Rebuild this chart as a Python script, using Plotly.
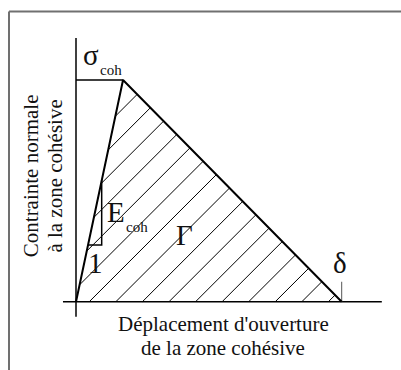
import plotly.graph_objects as go

# Bilinear cohesive law (normalised): opening displacement -> normal stress
law_delta = [0.0, 0.177, 1.0]
law_sigma = [0.0, 1.0, 0.0]

# Corner of the small stiffness triangle drawn on the rising branch
slope_corner_delta = 0.0967
slope_corner_sigma = 0.2557

# Axis line extents (data units)
x_axis_span = [-0.049, 1.151]
y_axis_span = [-0.068, 1.189]
delta_tick_height = 0.09

# Hatching of the fracture-energy area
hatch_step = 0.1
hatch_offset = 0.05

# ---- page geometry -------------------------------------------------------
W, H = 401, 370
OX, OY = 76.0, 301.7          # pixel position of the origin
SX, SY = 265.7, 221.7         # pixels per data unit along x / y
x_range = [-OX / SX, (W - OX) / SX]
y_range = [-(H - OY) / SY, OY / SY]


def px(x):
    return (x - OX) / SX


def py(y):
    return (OY - y) / SY


# ---- hatch segments clipped to the triangle ------------------------------
m = SX / SY  # 45 degrees on screen
tri = list(zip(law_delta, law_sigma))
hx, hy = [], []
k_min = int(round((-0.7 - hatch_offset) / hatch_step))
k_max = int(round((1.0 - hatch_offset) / hatch_step))
for k in range(k_min, k_max + 1):
    xi = hatch_offset + k * hatch_step
    ts = []
    for i in range(3):
        (p0x, p0y), (p1x, p1y) = tri[i], tri[(i + 1) % 3]
        dx, dy = p1x - p0x, p1y - p0y
        # xi + t = p0x + u dx ; m t = p0y + u dy
        det = -dy + m * dx
        if abs(det) < 1e-12:
            continue
        bx, by = p0x - xi, p0y
        t = (-dy * bx + dx * by) / det
        u = (by - m * bx) / det
        if -1e-9 <= u <= 1 + 1e-9:
            ts.append(t)
    if len(ts) >= 2:
        t0, t1 = min(ts), max(ts)
        if t1 - t0 > 1e-6:
            hx += [xi + t0, xi + t1, None]
            hy += [m * t0, m * t1, None]

# ---- slope triangle -------------------------------------------------------
k_init = law_sigma[1] / law_delta[1]
slope_x = [slope_corner_sigma / k_init, slope_corner_delta, slope_corner_delta]
slope_y = [slope_corner_sigma, slope_corner_sigma, slope_corner_delta * k_init]

fig = go.Figure()
ink = "#000000"

fig.add_trace(go.Scatter(x=hx, y=hy, mode="lines",
                         line=dict(color=ink, width=1), hoverinfo="skip"))
fig.add_trace(go.Scatter(x=x_axis_span, y=[0, 0], mode="lines",
                         line=dict(color=ink, width=1.5), hoverinfo="skip"))
fig.add_trace(go.Scatter(x=[0, 0], y=y_axis_span, mode="lines",
                         line=dict(color=ink, width=1.5), hoverinfo="skip"))
fig.add_trace(go.Scatter(x=[0, law_delta[1]], y=[law_sigma[1], law_sigma[1]],
                         mode="lines", line=dict(color=ink, width=1.3),
                         hoverinfo="skip"))
fig.add_trace(go.Scatter(x=[law_delta[2], law_delta[2]], y=[0, delta_tick_height],
                         mode="lines", line=dict(color="#555555", width=1),
                         hoverinfo="skip"))
fig.add_trace(go.Scatter(x=slope_x, y=slope_y, mode="lines",
                         line=dict(color=ink, width=1.5), hoverinfo="skip"))
fig.add_trace(go.Scatter(x=law_delta, y=law_sigma, mode="lines",
                         line=dict(color=ink, width=2), hoverinfo="skip"))

serif = "Liberation Serif, Times New Roman, serif"
BIG, SUB, LAB = 29, 15, 21


def label(text, cx, cy, size, angle=0):
    fig.add_annotation(x=px(cx), y=py(cy), xref="x", yref="y", text=text,
                       showarrow=False, xanchor="center", yanchor="middle",
                       textangle=angle,
                       font=dict(family=serif, size=size, color="#111111"))


label("σ", 91, 55.2, BIG)
label("coh", 111, 69.9, SUB)
label("E", 115.7, 211.9, BIG)
label("coh", 136.5, 227, SUB)
label("Γ", 184, 235.2, BIG)
label("1", 95.5, 263.2, BIG)
label("δ", 340, 263.2, BIG)
label("Déplacement d'ouverture", 223, 330.7 - 0.3375 * LAB, LAB)
label("de la zone cohésive", 223, 355 - 0.3375 * LAB, LAB)
label("Contrainte normale", 38.3 - 0.3375 * LAB, 176, LAB, -90)
label("à la zone cohésive", 61.7 - 0.3375 * LAB, 176, LAB, -90)

# Frame around the drawing
frame = dict(color="#707070", width=2)
fig.add_shape(type="line", xref="paper", yref="paper",
              x0=9 / W, x1=1.0, y0=1 - 11.5 / H, y1=1 - 11.5 / H, line=frame)
fig.add_shape(type="line", xref="paper", yref="paper",
              x0=9 / W, x1=9 / W, y0=0.0, y1=1 - 11.5 / H, line=frame)

fig.update_layout(
    width=W, height=H, margin=dict(l=0, r=0, t=0, b=0),
    paper_bgcolor="white", plot_bgcolor="white", showlegend=False,
    xaxis=dict(range=x_range, visible=False, fixedrange=True),
    yaxis=dict(range=y_range, visible=False, fixedrange=True),
)

fig.write_html("out.html")
